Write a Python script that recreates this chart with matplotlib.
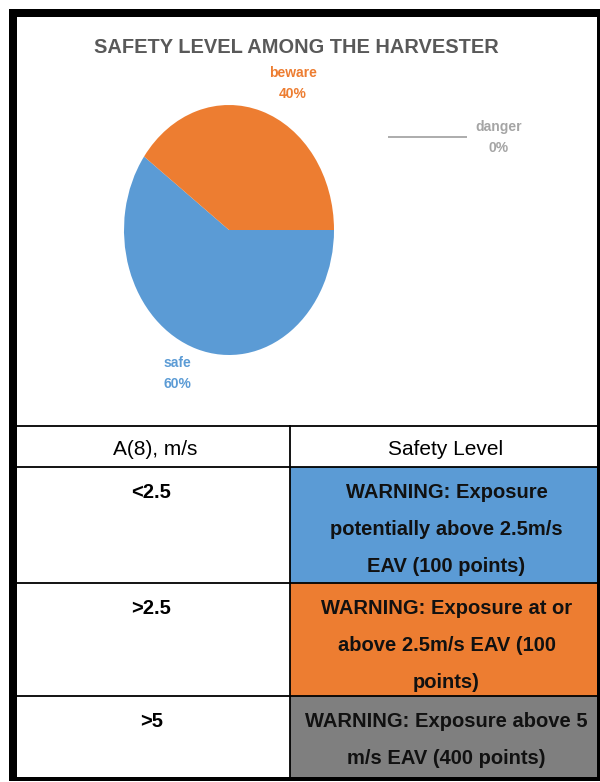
import matplotlib
matplotlib.use('Agg')
import matplotlib.pyplot as plt
from matplotlib.patches import Rectangle

# ---------------- data ----------------
title = "SAFETY LEVEL AMONG THE HARVESTER"
categories = ["safe", "beware", "danger"]
shares = [60, 40, 0]
slice_colors = ["#5B9BD5", "#ED7D31", "#A5A5A5"]

col_headers = ["A(8), m/s", "Safety Level"]
a8_levels = ["<2.5", ">2.5", ">5"]
safety_text = [
    "WARNING: Exposure\npotentially above 2.5m/s\nEAV (100 points)",
    "WARNING: Exposure at or\nabove 2.5m/s EAV (100\npoints)",
    "WARNING: Exposure above 5\nm/s EAV (400 points)",
]
cell_colors = ["#5B9BD5", "#ED7D31", "#7F7F7F"]

# ---------------- layout ----------------
W, H = 600, 782
REG = ['Liberation Sans', 'DejaVu Sans']

fig = plt.figure(figsize=(6, 7.82), dpi=100)
fig.patch.set_facecolor('white')
bg = fig.add_axes([0, 0, 1, 1])
bg.set_xlim(0, W)
bg.set_ylim(H, 0)
bg.axis('off')

# pie (elliptical, as in the reference)
cx, cy, rx, ry = 229, 230, 105, 125
pax = fig.add_axes([(cx - rx) / W, (H - (cy + ry)) / H, 2 * rx / W, 2 * ry / H])
wedges, _ = pax.pie(shares, colors=slice_colors, startangle=0, counterclock=False,
                    wedgeprops=dict(linewidth=0))
pax.set_aspect('auto')
pax.set_xlim(-1, 1)
pax.set_ylim(-1, 1)
pax.axis('off')

# title
bg.text(296, 53, title, ha='center', va='baseline', family=REG,
        weight='bold', fontsize=14.4, color='#595959')

# data labels
label_pos = {"safe": (177, 367), "beware": (293, 77), "danger": (499, 131)}
for cat, val, col in zip(categories, shares, slice_colors):
    x, y = label_pos[cat]
    bg.text(x, y, cat, ha='center', va='baseline', family=REG,
            weight='bold', fontsize=10, color=col)
    bg.text(x, y + 21, f"{val}%", ha='center', va='baseline', family=REG,
            weight='bold', fontsize=10, color=col)
# leader line for the zero slice
bg.plot([388, 467], [137, 137], color='#A6A6A6', lw=1.3, solid_capstyle='butt')

# ---------------- table ----------------
x0, xm, x1 = 17, 290, 597
row_edges = [426, 467, 583, 696, 777]

for i, col in enumerate(cell_colors):
    bg.add_patch(Rectangle((xm, row_edges[i + 1]), x1 - xm,
                           row_edges[i + 2] - row_edges[i + 1],
                           facecolor=col, edgecolor='none', zorder=1))

for y in row_edges[:-1]:
    bg.plot([x0, x1], [y, y], color='black', lw=1.3, zorder=3, solid_capstyle='butt')
bg.plot([xm, xm], [row_edges[0], row_edges[-1]], color='black', lw=1.3, zorder=3)

# headers
bg.text((x0 + xm) / 2 + 2, 455, col_headers[0], ha='center', va='baseline',
        family=REG, fontsize=15, color='black', zorder=4)
bg.text((xm + x1) / 2 + 2, 455, col_headers[1], ha='center', va='baseline',
        family=REG, fontsize=15, color='black', zorder=4)

line_gap = 37
for i in range(len(a8_levels)):
    top = row_edges[i + 1]
    base = top + 31
    bg.text((x0 + xm) / 2 - 2, base, a8_levels[i], ha='center', va='baseline',
            family=REG, weight='bold', fontsize=14.5, color='black', zorder=4)
    for k, line in enumerate(safety_text[i].split('\n')):
        bg.text((xm + x1) / 2 + 3, base + k * line_gap, line, ha='center',
                va='baseline', family=REG, weight='bold', fontsize=14.5,
                color='#111111', zorder=4)

# ---------------- outer frame ----------------
frame = [
    (9, 9, 8, 772),      # left (thick)
    (9, 9, 590, 8),      # top (thick)
    (597, 9, 2.5, 772),  # right
    (9, 777, 590, 4),    # bottom
]
for (x, y, w, h) in frame:
    bg.add_patch(Rectangle((x, y), w, h, facecolor='black', edgecolor='none', zorder=5))

fig.savefig('out.png', dpi=100, facecolor='white')
